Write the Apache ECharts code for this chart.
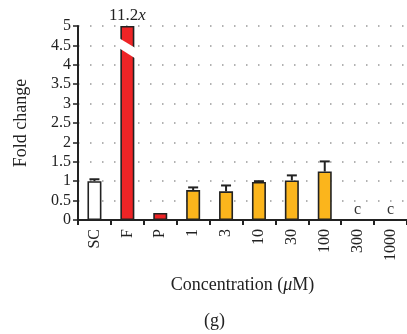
<!DOCTYPE html>
<html><head><meta charset="utf-8">
<script src="https://cdn.jsdelivr.net/npm/echarts@6/dist/echarts.min.js"></script>
<style>html,body{margin:0;padding:0;background:#fff}#c{width:407px;height:334px}</style>
</head><body><div id="c"></div>
<script>
const categories = ['SC','F','P','1','3','10','30','100','300','1000'];
const values = [1.0, 11.2, 0.18, 0.77, 0.74, 0.98, 1.02, 1.25, 0, 0];
const errUpper = [1.05, null, null, 0.84, 0.89, 1.0, 1.15, 1.51, null, null];
const groupColor = ['#ffffff','#ee2426','#ee2426','#fbb51c','#fbb51c','#fbb51c','#fbb51c','#fbb51c','#fbb51c','#fbb51c'];
const notes = ['', '', '', '', '', '', '', '', 'c', 'c'];
const yMax = 5;
const breakBand = [4.70, 4.44, 4.42, 4.15]; // left-top, left-bottom, right-top, right-bottom (data space)

const serif = 'Liberation Serif';
const chart = echarts.init(document.getElementById('c'));
const barData = values.map((v,i)=>({
  value: Math.min(v, yMax),
  itemStyle:{color: groupColor[i]},
  label: v > yMax ? {show:true, position:'top', distance:2, formatter:'{a|'+v+'}{b|x}',
      rich:{a:{fontFamily:serif,fontSize:17,color:'#222'},b:{fontFamily:serif,fontSize:17,fontStyle:'italic',color:'#222'}}}
    : (notes[i] ? {show:true, position:'top', distance:1, formatter: notes[i], fontFamily:serif, fontSize:16, color:'#333'} : {show:false})
}));
const errData = errUpper.map((e,i)=> e==null? null : [i, values[i], e]).filter(d=>d);
const breakIdx = values.map((v,i)=>v>yMax? i : -1).filter(i=>i>=0);

chart.setOption({
  animation:false,
  grid:{left:78, top:26, width:333, bottom:114},
  xAxis:{type:'category', data:categories,
    axisLine:{lineStyle:{color:'#222', width:2}},
    axisTick:{show:true, alignWithLabel:false, length:5, lineStyle:{color:'#222', width:2}},
    axisLabel:{rotate:90, fontFamily:serif, fontSize:16, color:'#222', margin:9},
    name:'Concentration ({i|μ}M)', nameLocation:'middle', nameGap:56,
    nameTextStyle:{fontFamily:serif, fontSize:18, color:'#222', rich:{i:{fontFamily:serif,fontSize:18,fontStyle:'italic',color:'#222'}}}
  },
  yAxis:{type:'value', min:0, max:yMax, interval:0.5,
    axisLine:{show:true, lineStyle:{color:'#222', width:2}},
    axisTick:{show:true, length:5, lineStyle:{color:'#222', width:1.5}},
    axisLabel:{fontFamily:serif, fontSize:16, color:'#222', margin:7, formatter:v=>String(v)},
    splitLine:{show:true, lineStyle:{color:'#999', type:[1.5,10.5], width:1.5}},
    name:'Fold change', nameLocation:'middle', nameGap:48,
    nameTextStyle:{fontFamily:serif, fontSize:18, color:'#222'}
  },
  title:{text:'(g)', left:199, top:307, textStyle:{fontFamily:serif, fontSize:18, fontWeight:'normal', color:'#222'}},
  series:[
    {type:'bar', data:barData, barWidth:14, itemStyle:{borderColor:'#222', borderWidth:1.6}, z:2},
    {type:'custom', z:3, data:breakIdx.map(i=>[i]),
      renderItem:(params, api)=>{
        const i = api.value(0);
        const c = api.coord([i, 0]);
        const w = api.size([1,0])[0]*0.42;
        const xl = c[0]-w/2-2, xr = c[0]+w/2+2;
        const p = (x,v)=>[x, api.coord([i, v])[1]];
        return {type:'polygon', shape:{points:[p(xl,breakBand[0]), p(xr,breakBand[2]), p(xr,breakBand[3]), p(xl,breakBand[1])]}, style:{fill:'#fff'}};
      }},
    {type:'custom', z:4, data:errData,
      renderItem:(params, api)=>{
        const top = api.coord([api.value(0), api.value(2)]);
        const bot = api.coord([api.value(0), api.value(1)]);
        const hw = 5;
        return {type:'group', children:[
          {type:'line', shape:{x1:top[0], y1:top[1], x2:bot[0], y2:bot[1]}, style:{stroke:'#222', lineWidth:2}},
          {type:'line', shape:{x1:top[0]-hw, y1:top[1], x2:top[0]+hw, y2:top[1]}, style:{stroke:'#222', lineWidth:2}}
        ]};
      }}
  ]
});
</script></body></html>
